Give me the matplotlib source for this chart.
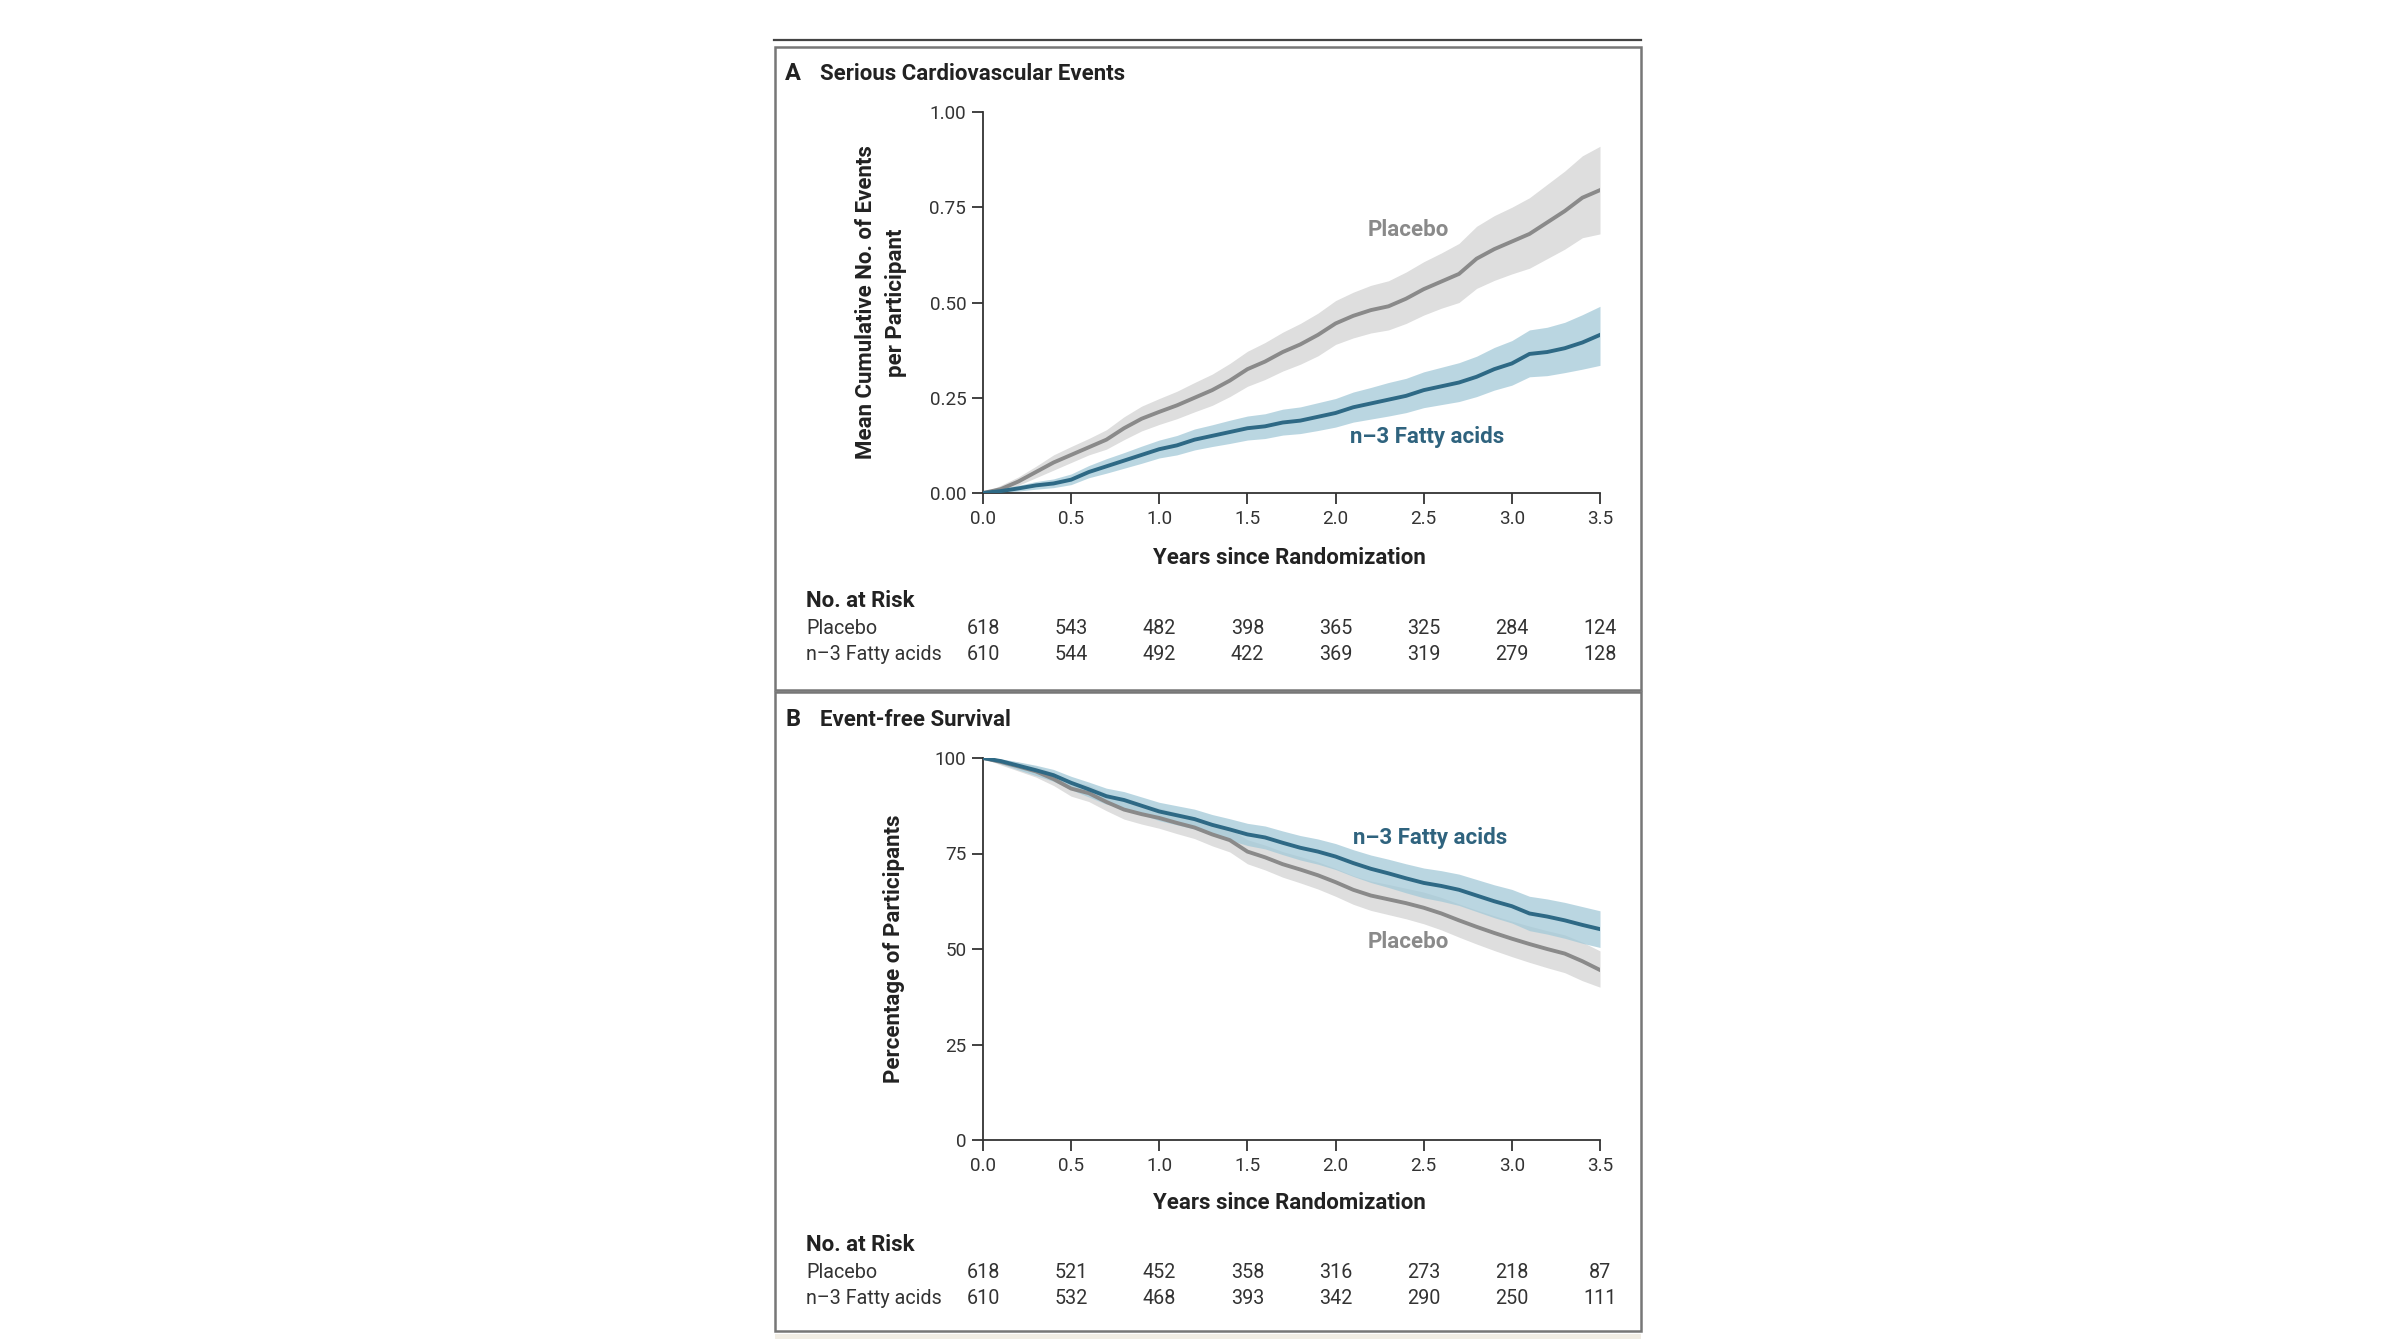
import matplotlib
matplotlib.use("Agg")
import matplotlib.pyplot as plt
from matplotlib import font_manager
from matplotlib.patches import Rectangle
from matplotlib.lines import Line2D

# --- data ---
years = [0.0, 0.1, 0.2, 0.3, 0.4, 0.5, 0.6, 0.7, 0.8, 0.9, 1.0, 1.1, 1.2, 1.3, 1.4, 1.5, 1.6, 1.7,
         1.8, 1.9, 2.0, 2.1, 2.2, 2.3, 2.4, 2.5, 2.6, 2.7, 2.8, 2.9, 3.0, 3.1, 3.2, 3.3, 3.4, 3.5]

# Panel A: mean cumulative number of events per participant
a_placebo = [0.0, 0.01, 0.03, 0.055, 0.08, 0.10, 0.12, 0.14, 0.17, 0.195, 0.213, 0.23, 0.25, 0.27,
             0.295, 0.325, 0.345, 0.37, 0.39, 0.415, 0.445, 0.465, 0.48, 0.49, 0.51, 0.535, 0.555,
             0.575, 0.615, 0.64, 0.66, 0.68, 0.71, 0.74, 0.775, 0.795]
a_placebo_lo = [0.0, 0.0, 0.02, 0.04, 0.06, 0.08, 0.10, 0.115, 0.14, 0.163, 0.18, 0.195, 0.213, 0.23,
                0.253, 0.28, 0.298, 0.32, 0.338, 0.36, 0.39, 0.407, 0.42, 0.428, 0.445, 0.467, 0.485,
                0.50, 0.537, 0.558, 0.575, 0.59, 0.615, 0.64, 0.67, 0.68]
a_placebo_hi = [0.0, 0.02, 0.042, 0.07, 0.10, 0.122, 0.143, 0.166, 0.2, 0.228, 0.248, 0.267, 0.29, 0.312,
                0.34, 0.372, 0.395, 0.422, 0.445, 0.472, 0.505, 0.527, 0.545, 0.557, 0.58, 0.607,
                0.63, 0.655, 0.7, 0.728, 0.75, 0.775, 0.81, 0.845, 0.885, 0.91]
a_fatty = [0.0, 0.005, 0.012, 0.02, 0.025, 0.035, 0.055, 0.07, 0.085, 0.10, 0.115, 0.125, 0.14, 0.15,
           0.16, 0.17, 0.175, 0.185, 0.19, 0.20, 0.21, 0.225, 0.235, 0.245, 0.255, 0.27, 0.28, 0.29,
           0.305, 0.325, 0.34, 0.365, 0.37, 0.38, 0.395, 0.415]
a_fatty_lo = [0.0, 0.0, 0.005, 0.01, 0.014, 0.022, 0.04, 0.052, 0.065, 0.078, 0.092, 0.1, 0.113, 0.122,
              0.13, 0.139, 0.143, 0.152, 0.156, 0.164, 0.173, 0.186, 0.194, 0.202, 0.211, 0.224, 0.232,
              0.24, 0.253, 0.27, 0.283, 0.305, 0.308, 0.316, 0.325, 0.335]
a_fatty_hi = [0.0, 0.012, 0.02, 0.03, 0.037, 0.05, 0.072, 0.09, 0.106, 0.123, 0.139, 0.151, 0.168, 0.179,
              0.191, 0.202, 0.208, 0.22, 0.226, 0.237, 0.248, 0.265, 0.277, 0.29, 0.301, 0.318, 0.33,
              0.342, 0.359, 0.382, 0.4, 0.428, 0.435, 0.448, 0.468, 0.49]

# Panel B: event-free survival (%)
b_placebo = [100, 99.0, 97.8, 96.5, 94.5, 92.0, 90.8, 88.5, 86.5, 85.3, 84.3, 83.0, 81.8, 80.0, 78.5,
             75.5, 74.0, 72.2, 70.8, 69.3, 67.5, 65.5, 64.0, 63.0, 62.0, 60.8, 59.3, 57.5, 55.8, 54.2,
             52.7, 51.3, 50.0, 48.8, 46.8, 44.5]
b_placebo_lo = [100, 98.2, 96.6, 95.0, 92.8, 90.0, 88.6, 86.2, 84.0, 82.7, 81.6, 80.2, 78.9, 77.0, 75.4,
                72.3, 70.7, 68.8, 67.3, 65.7, 63.8, 61.7, 60.1, 59.0, 57.9, 56.6, 55.0, 53.1, 51.3, 49.6,
                48.0, 46.5, 45.1, 43.8, 41.7, 40.0]
b_placebo_hi = [100, 99.7, 98.9, 97.9, 96.1, 93.9, 92.9, 90.7, 88.9, 87.8, 86.9, 85.7, 84.6, 82.9, 81.5,
                78.6, 77.2, 75.5, 74.2, 72.8, 71.1, 69.2, 67.8, 66.9, 65.9, 64.9, 63.5, 61.8, 60.2, 58.7,
                57.3, 56.0, 54.8, 53.7, 51.8, 49.5]
b_fatty = [100, 99.2, 98.0, 96.8, 95.5, 93.5, 91.8, 90.0, 89.0, 87.5, 86.0, 85.0, 84.0, 82.5, 81.3,
           80.0, 79.2, 77.8, 76.5, 75.5, 74.2, 72.5, 71.0, 69.8, 68.5, 67.3, 66.5, 65.5, 64.0, 62.5,
           61.2, 59.3, 58.5, 57.5, 56.3, 55.2]
b_fatty_lo = [100, 98.5, 96.9, 95.4, 93.9, 91.7, 89.8, 87.9, 86.8, 85.2, 83.6, 82.5, 81.4, 79.8, 78.5,
              77.1, 76.2, 74.7, 73.3, 72.2, 70.8, 69.0, 67.4, 66.1, 64.7, 63.4, 62.5, 61.4, 59.8, 58.2,
              56.8, 54.8, 53.9, 52.8, 51.5, 50.4]
b_fatty_hi = [100, 99.8, 99.0, 98.1, 97.0, 95.2, 93.7, 92.1, 91.2, 89.8, 88.4, 87.5, 86.6, 85.2, 84.1,
              82.9, 82.2, 80.9, 79.7, 78.8, 77.6, 76.0, 74.6, 73.5, 72.3, 71.2, 70.5, 69.6, 68.2, 66.8,
              65.6, 63.8, 63.1, 62.2, 61.1, 60.0]

risk_years = [0.0, 0.5, 1.0, 1.5, 2.0, 2.5, 3.0, 3.5]
a_risk_placebo = [618, 543, 482, 398, 365, 325, 284, 124]
a_risk_fatty = [610, 544, 492, 422, 369, 319, 279, 128]
b_risk_placebo = [618, 521, 452, 358, 316, 273, 218, 87]
b_risk_fatty = [610, 532, 468, 393, 342, 290, 250, 111]

# --- styling ---
W, H = 2388, 1339
installed = {f.name for f in font_manager.fontManager.ttflist}
if "Liberation Sans Narrow" in installed:
    FONT = ["Liberation Sans Narrow", "DejaVu Sans"]
    k = 1.0
else:
    FONT = ["Roboto", "DejaVu Sans"]
    k = 0.97
plt.rcParams["font.family"] = FONT

C_PLA_LINE = "#8a8a8a"
C_PLA_BAND = "#dedede"
C_FAT_LINE = "#2e6985"
C_FAT_BAND = "#a3c9d8"
C_FAT_TEXT = "#2f637e"
C_TEXT = "#222222"

BOLD = 16.5 * k
TICK = 14 * k
RISK = 14.7 * k

fig = plt.figure(figsize=(W / 100, H / 100), dpi=100)
fig.patch.set_facecolor("white")


def fx(px):
    return px / W


def fy(py):
    return 1 - py / H


# panel frames
fig.add_artist(Line2D([fx(774), fx(1641)], [fy(40), fy(40)], color="#444444", lw=1.6))
for top, bot in [(47, 690), (692, 1331)]:
    fig.add_artist(Rectangle((fx(775), fy(bot)), fx(1641) - fx(775), fy(top) - fy(bot),
                             fill=False, edgecolor="#777777", lw=1.8))
fig.add_artist(Rectangle((fx(775), 0), fx(1641) - fx(775), fy(1334), color="#f1ede4", lw=0))


def panel(top_px, bot_px, letter, title, ylabel_lines, ylabel_x, pla, pla_lo, pla_hi,
          fat, fat_lo, fat_hi, ymax, yticks, yticklabels, risk_pla, risk_fat, lbl_pla, lbl_fat,
          offs):
    ax = fig.add_axes([fx(983), fy(bot_px), fx(1600) - fx(983), fy(top_px) - fy(bot_px)])
    ax.fill_between(years, pla_lo, pla_hi, color=C_PLA_BAND, lw=0, zorder=1)
    ax.fill_between(years, fat_lo, fat_hi, color=C_FAT_BAND, alpha=0.75, lw=0, zorder=2)
    ax.plot(years, pla, color=C_PLA_LINE, lw=2.8, zorder=3, solid_joinstyle="miter")
    ax.plot(years, fat, color=C_FAT_LINE, lw=2.8, zorder=4, solid_joinstyle="miter")
    ax.set_xlim(0, 3.5)
    ax.set_ylim(0, ymax)
    ax.set_xticks(risk_years)
    ax.set_xticklabels([f"{v:.1f}" for v in risk_years])
    ax.set_yticks(yticks)
    ax.set_yticklabels(yticklabels)
    for s in ["top", "right"]:
        ax.spines[s].set_visible(False)
    for s in ["left", "bottom"]:
        ax.spines[s].set_color("#333333")
        ax.spines[s].set_linewidth(1.3)
    ax.tick_params(direction="out", length=8, width=1.3, color="#333333",
                   labelsize=TICK, labelcolor="#333333", pad=4)

    ax.text(lbl_pla[0], lbl_pla[1], "Placebo", color=C_PLA_LINE, fontsize=BOLD,
            fontweight="bold", ha="center", va="center")
    ax.text(lbl_fat[0], lbl_fat[1], "n\u20133 Fatty acids", color=C_FAT_TEXT, fontsize=BOLD,
            fontweight="bold", ha="center", va="center")

    # panel title
    fig.text(fx(785), fy(top_px - offs["title"]), letter, fontsize=BOLD + 1, fontweight="bold",
             color=C_TEXT, va="center")
    fig.text(fx(820), fy(top_px - offs["title"]), title, fontsize=BOLD, fontweight="bold",
             color=C_TEXT, va="center")

    # y label (drawn line by line)
    for i, line in enumerate(ylabel_lines):
        fig.text(fx(ylabel_x[i]), fy((top_px + bot_px) / 2), line, rotation=90, fontsize=BOLD,
                 fontweight="bold", color=C_TEXT, ha="center", va="center")

    fig.text(fx(1289), fy(bot_px + offs["xlabel"]), "Years since Randomization", fontsize=BOLD,
             fontweight="bold", color=C_TEXT, ha="center", va="center")

    # numbers at risk
    y0 = bot_px + offs["risk"]
    fig.text(fx(806), fy(y0), "No. at Risk", fontsize=BOLD, fontweight="bold", color=C_TEXT,
             va="center")
    for j, (name, vals) in enumerate([("Placebo", risk_pla), ("n\u20133 Fatty acids", risk_fat)]):
        yy = fy(y0 + 27 + 26 * j)
        fig.text(fx(806), yy, name, fontsize=RISK, color="#333333", va="center")
        for t, v in zip(risk_years, vals):
            xa = ax.transData.transform((t, 0))[0] / W
            fig.text(xa, yy, str(v), fontsize=RISK, color="#333333", ha="center", va="center")
    return ax


panel(112, 493, "A", "Serious Cardiovascular Events",
      ["Mean Cumulative No. of Events", "per Participant"], [866, 896],
      a_placebo, a_placebo_lo, a_placebo_hi, a_fatty, a_fatty_lo, a_fatty_hi,
      1.0, [0, 0.25, 0.5, 0.75, 1.0], ["0.00", "0.25", "0.50", "0.75", "1.00"],
      a_risk_placebo, a_risk_fatty, (2.415, 0.69), (2.52, 0.148),
      {"title": 38, "xlabel": 65, "risk": 108})

panel(758, 1140, "B", "Event-free Survival", ["Percentage of Participants"], [894],
      b_placebo, b_placebo_lo, b_placebo_hi, b_fatty, b_fatty_lo, b_fatty_hi,
      100, [0, 25, 50, 75, 100], ["0", "25", "50", "75", "100"],
      b_risk_placebo, b_risk_fatty, (2.415, 51.9), (2.535, 79.1),
      {"title": 38, "xlabel": 63, "risk": 105})

fig.savefig("out.png", dpi=100, facecolor="white")
